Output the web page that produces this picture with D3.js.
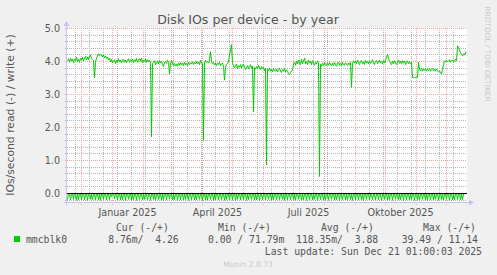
<!DOCTYPE html>
<html><head><meta charset="utf-8">
<script src="https://cdn.jsdelivr.net/npm/d3@7"></script>
<style>body{margin:0;background:#f0f0f0}svg{display:block}</style>
</head><body><script>
// ---- data (one value per day, starting 2024-11-17) ----
const startDay = Date.UTC(2024, 10, 17);
const endDay = Date.UTC(2025, 11, 22);
const writeValues = [
4.02,4.07,3.96,4.08,4.0,4.06,3.95,4.06,4.02,4.12,3.98,4.05,3.96,4.09,4.03,4.11,4.0,4.1,4.14,4.03,
4.12,4.04,4.16,4.19,4.08,4.05,4.02,3.5,3.95,4.1,4.15,4.22,4.16,4.18,4.2,4.12,4.19,4.1,4.15,4.08,
4.12,4.03,4.09,3.98,4.06,3.94,3.99,4.04,3.92,4.02,3.96,4.07,3.97,4.03,3.94,4.02,4.06,3.96,4.03,3.95,
4.01,4.07,3.96,4.04,3.99,4.06,3.95,4.04,3.99,4.08,3.96,4.03,4.07,3.99,4.09,3.95,4.03,3.99,4.06,3.96,
4.04,3.98,4.03,3.95,1.7,3.92,3.96,4.01,3.88,3.97,4.0,3.91,4.02,3.94,3.99,3.9,3.83,3.96,3.99,3.93,
4.02,3.96,3.6,3.95,4.02,3.94,3.86,3.93,3.85,3.91,3.84,3.94,3.87,3.96,3.88,3.94,3.86,3.97,3.89,3.93,
3.86,3.96,3.89,3.95,3.91,3.98,3.89,3.96,3.91,3.99,3.92,3.97,3.89,4.02,3.93,3.92,1.6,3.95,4.02,3.95,
3.99,3.94,4.02,4.28,3.98,3.91,3.96,3.88,3.94,3.86,3.93,3.89,3.96,3.86,3.91,3.94,3.84,3.42,3.8,3.9,
3.92,4.0,4.18,4.32,4.5,3.95,3.87,3.79,3.86,3.91,3.76,3.86,3.81,3.89,3.79,3.87,3.91,3.81,3.74,3.81,
3.86,3.77,3.83,3.89,3.79,3.85,2.46,3.8,3.75,3.83,3.77,3.86,3.79,3.74,3.83,3.77,3.81,3.71,3.78,0.85,
3.75,3.71,3.79,3.69,3.75,3.67,3.77,3.71,3.69,3.76,3.67,3.73,3.79,3.69,3.65,3.74,3.69,3.77,3.67,3.73,
3.69,3.62,3.58,3.65,3.7,3.72,3.9,3.96,3.87,3.99,3.91,4.03,3.94,3.89,4.06,3.92,3.99,4.09,3.91,3.98,
3.89,4.03,3.94,3.99,3.89,4.01,3.93,3.87,3.97,3.91,4.01,3.95,0.5,3.9,3.84,3.93,3.87,3.96,3.89,3.85,
3.93,3.87,3.96,3.89,3.85,3.94,3.87,3.96,3.89,3.84,3.93,3.97,3.87,3.94,3.86,3.96,3.89,3.87,3.95,3.89,
3.86,3.94,3.89,3.96,3.2,3.92,4.01,3.94,3.99,3.91,4.03,3.96,3.89,3.99,4.01,3.92,3.98,3.89,4.03,3.94,
3.99,3.91,4.01,3.93,3.98,4.04,3.94,3.89,3.99,4.01,3.92,3.97,4.03,3.94,3.99,3.91,4.01,3.94,4.05,4.1,
4.21,4.08,4.0,3.94,3.89,3.99,3.92,4.01,3.94,3.89,3.98,4.03,3.93,3.99,3.91,4.01,3.94,3.99,3.89,3.97,
4.01,3.92,3.98,3.91,3.95,3.5,3.5,3.5,3.5,3.52,3.5,3.97,3.75,3.71,3.79,3.69,3.76,3.72,3.77,3.69,
3.75,3.71,3.78,3.69,3.74,3.77,3.7,3.75,3.69,3.76,3.71,3.67,3.7,3.65,3.6,3.75,3.9,4.0,3.97,4.03,
3.97,4.01,4.04,3.96,4.01,4.03,3.97,4.01,4.06,4.0,4.46,4.4,4.33,4.25,4.2,4.15,4.22,4.18,4.26,4.26
];
const readValues = [
.2,.02,.01,.21,.03,.02,.19,.01,.03,.22,.02,.2,.01,.03,.21,.02,.01,.2,.03,.02,
.22,.01,.02,.19,.03,.2,.02,.01,.21,.03,.02,.2,.01,.22,.02,.03,.19,.01,.02,.21,
.03,.02,.2,.01,.1,.03,.04,.18,.02,.05,.2,.03,.01,.21,.02,.2,.03,.01,.22,.02,
.01,.19,.03,.02,.21,.01,.2,.02,.03,.22,.01,.02,.2,.03,.01,.21,.02,.19,.01,.03,
.2,.02,.01,.22,.03,.02,.19,.01,.21,.02,.03,.2,.01,.02,.22,.03,.2,.01,.02,.21,
.02,.03,.19,.01,.02,.21,.03,.2,.02,.01,.22,.03,.01,.2,.02,.03,.21,.01,.19,.02,
.03,.22,.01,.02,.2,.03,.01,.21,.02,.2,.01,.03,.19,.02,.01,.22,.03,.02,.2,.01,
.21,.02,.03,.19,.01,.02,.22,.03,.2,.01,.02,.21,.03,.01,.2,.02,.03,.22,.01,.19,
.02,.03,.21,.01,.02,.2,.03,.01,.22,.02,.19,.03,.01,.21,.02,.03,.2,.01,.02,.22,
.03,.2,.01,.02,.19,.03,.02,.21,.01,.2,.03,.02,.22,.01,.03,.2,.02,.01,.21,.03,
.02,.19,.01,.03,.22,.02,.2,.01,.03,.21,.02,.01,.2,.03,.02,.19,.01,.22,.03,.02,
.2,.01,.03,.21,.02,.01,.2,.03,.22,.01,.02,.19,.03,.02,.21,.01,.2,.03,.02,.22,
.01,.03,.2,.02,.01,.21,.03,.19,.02,.01,.22,.03,.02,.2,.01,.03,.21,.02,.2,.01,
.03,.22,.02,.01,.19,.03,.02,.21,.01,.2,.03,.02,.22,.01,.03,.2,.02,.01,.21,.03,
.2,.02,.01,.19,.03,.22,.01,.02,.2,.03,.01,.21,.02,.03,.2,.01,.22,.02,.03,.19,
.01,.02,.21,.03,.05,.2,.02,.04,.21,.03,.02,.2,.01,.05,.22,.03,.02,.19,.01,.03,
.21,.02,.2,.01,.03,.22,.02,.01,.19,.03,.02,.21,.01,.2,.03,.02,.22,.01,.03,.2,
.02,.01,.21,.03,.19,.02,.01,.22,.03,.02,.2,.01,.21,.03,.02,.19,.01,.03,.22,.02,
.2,.01,.03,.21,.02,.01,.2,.03,.19,.02,.01,.22,.03,.02,.2,.01,.21,.03,.02,.19,
.01,.03,.22,.02,.01,.2,.03,.21,.02,.01,.19,.03,.02,.21,.01,.2,.03,.02,.01,.01
];
const yMajorTicks = [0, 1, 2, 3, 4, 5];
const xLabels = ["Januar 2025", "April 2025", "Juli 2025", "Oktober 2025"];
const xLabelDates = [Date.UTC(2025,0,16), Date.UTC(2025,3,16), Date.UTC(2025,6,16), Date.UTC(2025,9,16)];
const seriesName = "mmcblk0";
const legendHeaders = ["Cur (-/+)", "Min (-/+)", "Avg (-/+)", "Max (-/+)"];
const legendValueRow = "mmcblk0       8.76m/  4.26     0.00 / 71.79m  118.35m/  3.88    39.49 / 11.14";
const lastUpdate = "Last update: Sun Dec 21 01:00:03 2025";

// ---- layout ----
const W = 497, H = 275;
const L = 67, R = 467, T = 28, B = 202;
const svg = d3.select("body").append("svg").attr("width", W).attr("height", H);
svg.append("rect").attr("width", W).attr("height", H).attr("fill", "#f0f0f0");

const x = d3.scaleUtc().domain([new Date(startDay), new Date(endDay)]).range([L, R]);
const y = d3.scaleLinear().domain([-0.27, 5]).range([B, T]);
const dayAt = i => d3.utcDay.offset(new Date(startDay), i);

svg.append("rect").attr("x", L).attr("y", T).attr("width", R - L).attr("height", B - T).attr("fill", "#fff");

const grid = svg.append("g").attr("shape-rendering", "crispEdges");
const minorC = "#b4b4b4", majorC = "#f2a8a8";
// minor horizontal grid every 0.2
const yMinor = d3.range(-1, 26).map(i => +(i * 0.2).toFixed(1)).filter(v => !yMajorTicks.includes(v));
grid.selectAll(".hmin").data(yMinor).join("line")
  .attr("x1", L - 2).attr("x2", R).attr("y1", d => Math.round(y(d)) + 0.5).attr("y2", d => Math.round(y(d)) + 0.5)
  .attr("stroke", minorC).attr("stroke-dasharray", "1 1");
// minor vertical grid every two weeks
const xMinor = d3.utcDay.range(new Date(Date.UTC(2024,10,25)), new Date(endDay), 14);
grid.selectAll(".vmin").data(xMinor).join("line")
  .attr("x1", d => Math.round(x(d)) + 0.5).attr("x2", d => Math.round(x(d)) + 0.5)
  .attr("y1", T).attr("y2", B + 2)
  .attr("stroke", minorC).attr("stroke-dasharray", "1 1");
// major grid
grid.selectAll(".hmaj").data(yMajorTicks).join("line")
  .attr("x1", L - 2).attr("x2", R).attr("y1", d => Math.round(y(d)) + 0.5).attr("y2", d => Math.round(y(d)) + 0.5)
  .attr("stroke", majorC).attr("stroke-dasharray", "1 1");
const xMajor = d3.utcMonth.range(new Date(startDay), new Date(endDay));
grid.selectAll(".vmaj").data(xMajor).join("line")
  .attr("x1", d => Math.round(x(d)) + 0.5).attr("x2", d => Math.round(x(d)) + 0.5)
  .attr("y1", T).attr("y2", B + 3)
  .attr("stroke", majorC).attr("stroke-dasharray", "1 1");

// series
svg.append("clipPath").attr("id", "clip").append("rect").attr("x", L).attr("y", T).attr("width", R - L).attr("height", B - T);
const plot = svg.append("g").attr("clip-path", "url(#clip)");
plot.append("path").datum(writeValues)
  .attr("d", d3.line().x((d, i) => x(dayAt(i)) + 0.5).y(d => y(d)))
  .attr("fill", "none").attr("stroke", "#00cc00").attr("stroke-width", 1);
plot.append("path").datum(readValues)
  .attr("d", d3.line().x((d, i) => x(dayAt(i)) + 0.5).y(d => y(-d)))
  .attr("fill", "none").attr("stroke", "#00cc00").attr("stroke-width", 1);
// zero line
svg.append("line").attr("x1", L).attr("x2", R).attr("y1", Math.round(y(0)) + 0.5).attr("y2", Math.round(y(0)) + 0.5)
  .attr("stroke", "#000").attr("shape-rendering", "crispEdges");

// axis lines and arrows
const axc = "#c4c4ee";
svg.append("line").attr("x1", L - 0.5).attr("x2", L - 0.5).attr("y1", T - 4).attr("y2", B + 3).attr("stroke", axc).attr("shape-rendering", "crispEdges");
svg.append("line").attr("x1", L - 3).attr("x2", R + 4).attr("y1", B + 0.5).attr("y2", B + 0.5).attr("stroke", axc).attr("shape-rendering", "crispEdges");
svg.append("path").attr("d", `M${L-3.5},${T-2}L${L+2.5},${T-2}L${L-0.5},${T-7}Z`).attr("fill", axc);
svg.append("path").attr("d", `M${R+2},${B-2.5}L${R+2},${B+3.5}L${R+7},${B+0.5}Z`).attr("fill", axc);

// axis labels
const yAxis = svg.append("g").attr("transform", `translate(${L},0)`)
  .call(d3.axisLeft(y).tickValues(yMajorTicks).tickSize(0).tickPadding(7).tickFormat(d3.format(".1f")));
yAxis.select(".domain").remove();
yAxis.selectAll("text").attr("font-family", "DejaVu Sans").attr("font-size", 9.6).attr("fill", "#555");

const xAxis = svg.append("g").attr("transform", `translate(0,${B})`)
  .call(d3.axisBottom(x).tickValues(xLabelDates.map(d => new Date(d))).tickSize(0).tickPadding(7.5)
    .tickFormat((d, i) => xLabels[i]));
xAxis.select(".domain").remove();
xAxis.selectAll("text").attr("font-family", "DejaVu Sans").attr("font-size", 9.6).attr("fill", "#555");

// titles
svg.append("text").attr("x", 248).attr("y", 24).attr("text-anchor", "middle")
  .attr("font-family", "DejaVu Sans").attr("font-size", 12.6).attr("fill", "#555")
  .text("Disk IOs per device - by year");
svg.append("text").attr("transform", `translate(14,${(T + B) / 2}) rotate(-90)`).attr("text-anchor", "middle")
  .attr("font-family", "DejaVu Sans").attr("font-size", 10.8).attr("fill", "#555")
  .text("IOs/second read (-) / write (+)");
svg.append("text").attr("transform", "translate(485,54) rotate(90)").attr("text-anchor", "middle")
  .attr("font-family", "DejaVu Sans").attr("font-size", 7.4).attr("fill", "#c8c8c8")
  .text("RRDTOOL / TOBI OETIKER");

// legend
function txt(s, xx, yy, anchor) {
  return svg.append("text").attr("x", xx).attr("y", yy).attr("text-anchor", anchor || "start")
    .attr("xml:space", "preserve").style("white-space", "pre")
    .attr("font-family", "DejaVu Sans Mono").attr("font-size", 9.75).attr("fill", "#555").text(s);
}
const headerX = [116, 218, 321, 423];
legendHeaders.forEach((h, i) => txt(h, headerX[i], 231));
svg.append("rect").attr("x", 14).attr("y", 236).attr("width", 6).attr("height", 6).attr("fill", "#00cc00");
txt(legendValueRow, 26, 242.5);
txt(lastUpdate, 482, 254.5, "end");
svg.append("text").attr("x", 248).attr("y", 267).attr("text-anchor", "middle")
  .attr("font-family", "DejaVu Sans").attr("font-size", 7.6).attr("fill", "#c8c8c8").text("Munin 2.0.73");
</script></body></html>
